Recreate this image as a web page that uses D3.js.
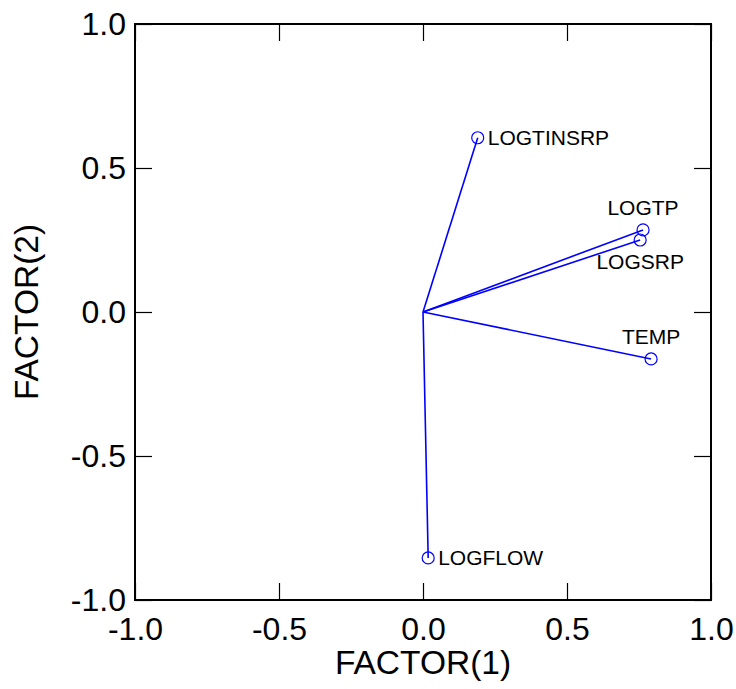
<!DOCTYPE html>
<html>
<head>
<meta charset="utf-8">
<script src="https://cdn.jsdelivr.net/npm/d3@7"></script>
<style>
  html, body { margin: 0; padding: 0; background: #fff; }
  text { font-family: "Liberation Sans", Arial, Helvetica, sans-serif; fill: #000; }
</style>
</head>
<body>
<svg id="chart" width="736" height="689"></svg>
<script>
const variables = ["LOGTINSRP", "LOGTP", "LOGSRP", "TEMP", "LOGFLOW"];
const factor1 = [0.190, 0.764, 0.754, 0.792, 0.018];
const factor2 = [0.605, 0.285, 0.250, -0.163, -0.854];
const labelPlacement = ["right", "above", "below", "above", "right"];
const tickValues = [-1.0, -0.5, 0.0, 0.5, 1.0];
const xTitle = "FACTOR(1)";
const yTitle = "FACTOR(2)";

(function () {
  const svg = d3.select("#chart");
  const pl = 135, pr = 711, pt = 24, pb = 600;
  const x = d3.scaleLinear().domain([-1, 1]).range([pl, pr]);
  const y = d3.scaleLinear().domain([-1, 1]).range([pb, pt]);
  const blue = "#0000ff";
  const fmt = v => v.toFixed(1).replace("\u2212", "-");
  const tickLen = 17;

  const xAxisB = d3.axisBottom(x).tickValues(tickValues).tickSize(-tickLen).tickFormat(fmt);
  const xAxisT = d3.axisTop(x).tickValues(tickValues).tickSize(-tickLen).tickFormat("");
  const yAxisL = d3.axisLeft(y).tickValues(tickValues).tickSize(-tickLen).tickPadding(9).tickFormat(fmt);
  const yAxisR = d3.axisRight(y).tickValues(tickValues).tickSize(-tickLen).tickFormat("");

  function style(g) {
    g.select(".domain").remove();
    g.selectAll(".tick line").attr("stroke", "#000").attr("stroke-width", 1.2);
    g.selectAll(".tick text").style("font-size", "32px").attr("fill", "#000");
  }
  const gxb = svg.append("g").attr("transform", `translate(0,${pb})`).call(xAxisB).call(style);
  gxb.selectAll(".tick text").attr("dy", null).attr("y", 40);
  svg.append("g").attr("transform", `translate(0,${pt})`).call(xAxisT).call(style);
  svg.append("g").attr("transform", `translate(${pl},0)`).call(yAxisL).call(style);
  svg.append("g").attr("transform", `translate(${pr},0)`).call(yAxisR).call(style);

  svg.append("rect").attr("x", pl).attr("y", pt).attr("width", pr - pl).attr("height", pb - pt)
    .attr("fill", "none").attr("stroke", "#000").attr("stroke-width", 2);

  const data = variables.map((v, i) => ({ name: v, f1: factor1[i], f2: factor2[i], pos: labelPlacement[i] }));
  svg.append("g").selectAll("line").data(data).join("line")
    .attr("x1", x(0)).attr("y1", y(0))
    .attr("x2", d => x(d.f1)).attr("y2", d => y(d.f2))
    .attr("stroke", blue).attr("stroke-width", 1.6);
  svg.append("g").selectAll("circle").data(data).join("circle")
    .attr("cx", d => x(d.f1)).attr("cy", d => y(d.f2)).attr("r", 6)
    .attr("fill", "none").attr("stroke", blue).attr("stroke-width", 1.2);

  svg.append("g").selectAll("text").data(data).join("text")
    .style("font-size", "21px")
    .attr("x", d => d.pos === "right" ? x(d.f1) + 10 : x(d.f1))
    .attr("y", d => d.pos === "right" ? y(d.f2) + 7 : d.pos === "above" ? y(d.f2) - 15 : y(d.f2) + 29)
    .attr("text-anchor", d => d.pos === "right" ? "start" : "middle")
    .text(d => d.name);

  svg.append("text").attr("x", (pl + pr) / 2).attr("y", 674).attr("text-anchor", "middle")
    .style("font-size", "33.5px").text(xTitle);
  svg.append("text").attr("transform", `translate(38,${(pt + pb) / 2}) rotate(-90)`).attr("text-anchor", "middle")
    .style("font-size", "33.5px").text(yTitle);
})();
</script>
</body>
</html>
